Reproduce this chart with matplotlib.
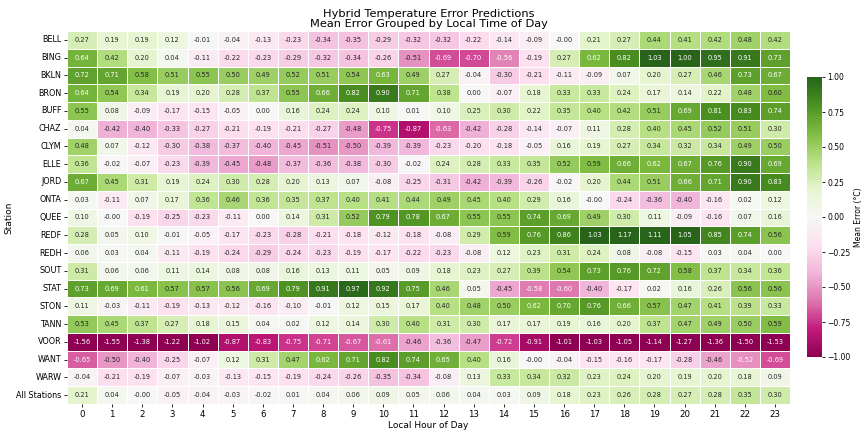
import matplotlib
matplotlib.use("Agg")
import matplotlib.pyplot as plt
import numpy as np
import seaborn as sns

stations = ["BELL", "BING", "BKLN", "BRON", "BUFF", "CHAZ", "CLYM", "ELLE", "JORD", "ONTA",
            "QUEE", "REDF", "REDH", "SOUT", "STAT", "STON", "TANN", "VOOR", "WANT", "WARW",
            "All Stations"]
hours = list(range(24))
Z = -0.001  # displays as -0.00

BELL = [0.27, 0.19, 0.19, 0.12, -0.01, -0.04, -0.13, -0.23, -0.34, -0.35, -0.29, -0.32, -0.32, -0.22, -0.14, -0.09, Z, 0.21, 0.27, 0.44, 0.41, 0.42, 0.48, 0.42]
BING = [0.64, 0.42, 0.20, 0.04, -0.11, -0.22, -0.23, -0.29, -0.32, -0.34, -0.26, -0.51, -0.69, -0.70, -0.56, -0.19, 0.27, 0.62, 0.82, 1.03, 1.00, 0.95, 0.91, 0.73]
BKLN = [0.72, 0.71, 0.58, 0.51, 0.55, 0.50, 0.49, 0.52, 0.51, 0.54, 0.63, 0.49, 0.27, -0.04, -0.30, -0.21, -0.11, -0.09, 0.07, 0.20, 0.27, 0.46, 0.73, 0.67]
BRON = [0.64, 0.54, 0.34, 0.19, 0.20, 0.28, 0.37, 0.55, 0.66, 0.82, 0.90, 0.71, 0.38, 0.00, -0.07, 0.18, 0.33, 0.33, 0.24, 0.17, 0.14, 0.22, 0.48, 0.60]
BUFF = [0.55, 0.08, -0.09, -0.17, -0.15, -0.05, 0.00, 0.16, 0.24, 0.24, 0.10, 0.01, 0.10, 0.25, 0.30, 0.22, 0.35, 0.40, 0.42, 0.51, 0.69, 0.81, 0.83, 0.74]
CHAZ = [0.04, -0.42, -0.40, -0.33, -0.27, -0.21, -0.19, -0.21, -0.27, -0.48, -0.75, -0.87, -0.63, -0.42, -0.28, -0.14, -0.07, 0.11, 0.28, 0.40, 0.45, 0.52, 0.51, 0.30]
CLYM = [0.48, 0.07, -0.12, -0.30, -0.38, -0.37, -0.40, -0.45, -0.51, -0.50, -0.39, -0.39, -0.23, -0.20, -0.18, -0.05, 0.16, 0.19, 0.27, 0.34, 0.32, 0.34, 0.49, 0.50]
ELLE = [0.36, -0.02, -0.07, -0.23, -0.39, -0.45, -0.48, -0.37, -0.36, -0.38, -0.30, -0.02, 0.24, 0.28, 0.33, 0.35, 0.52, 0.59, 0.66, 0.62, 0.67, 0.76, 0.90, 0.69]
JORD = [0.67, 0.45, 0.31, 0.19, 0.24, 0.30, 0.28, 0.20, 0.13, 0.07, -0.08, -0.25, -0.31, -0.42, -0.39, -0.26, -0.02, 0.20, 0.44, 0.51, 0.66, 0.71, 0.90, 0.83]
ONTA = [0.03, -0.11, 0.07, 0.17, 0.36, 0.46, 0.36, 0.35, 0.37, 0.40, 0.41, 0.44, 0.49, 0.45, 0.40, 0.29, 0.16, Z, -0.24, -0.36, -0.40, -0.16, 0.02, 0.12]
QUEE = [0.10, Z, -0.19, -0.25, -0.23, -0.11, 0.00, 0.14, 0.31, 0.52, 0.79, 0.78, 0.67, 0.55, 0.55, 0.74, 0.69, 0.49, 0.30, 0.11, -0.09, -0.16, 0.07, 0.16]
REDF = [0.28, 0.05, 0.10, -0.01, -0.05, -0.17, -0.23, -0.28, -0.21, -0.18, -0.12, -0.18, -0.08, 0.29, 0.59, 0.76, 0.86, 1.03, 1.17, 1.11, 1.05, 0.85, 0.74, 0.56]
REDH = [0.06, 0.03, 0.04, -0.11, -0.19, -0.24, -0.29, -0.24, -0.23, -0.19, -0.17, -0.22, -0.23, -0.08, 0.12, 0.23, 0.31, 0.24, 0.08, -0.08, -0.15, 0.03, 0.04, 0.00]
SOUT = [0.31, 0.06, 0.06, 0.11, 0.14, 0.08, 0.08, 0.16, 0.13, 0.11, 0.05, 0.09, 0.18, 0.23, 0.27, 0.39, 0.54, 0.73, 0.76, 0.72, 0.58, 0.37, 0.34, 0.36]
STAT = [0.73, 0.69, 0.61, 0.57, 0.57, 0.56, 0.69, 0.79, 0.91, 0.97, 0.92, 0.75, 0.46, 0.05, -0.45, -0.58, -0.60, -0.40, -0.17, 0.02, 0.16, 0.26, 0.56, 0.56]
STON = [0.11, -0.03, -0.11, -0.19, -0.13, -0.12, -0.16, -0.10, -0.01, 0.12, 0.15, 0.17, 0.40, 0.48, 0.50, 0.62, 0.70, 0.76, 0.66, 0.57, 0.47, 0.41, 0.39, 0.33]
TANN = [0.53, 0.45, 0.37, 0.27, 0.18, 0.15, 0.04, 0.02, 0.12, 0.14, 0.30, 0.40, 0.31, 0.30, 0.17, 0.17, 0.19, 0.16, 0.20, 0.37, 0.47, 0.49, 0.50, 0.59]
VOOR = [-1.56, -1.55, -1.38, -1.22, -1.02, -0.87, -0.83, -0.75, -0.71, -0.67, -0.61, -0.46, -0.36, -0.47, -0.72, -0.91, -1.01, -1.03, -1.05, -1.14, -1.27, -1.36, -1.50, -1.53]
WANT = [-0.65, -0.50, -0.40, -0.25, -0.07, 0.12, 0.31, 0.47, 0.62, 0.71, 0.82, 0.74, 0.65, 0.40, 0.16, Z, -0.04, -0.15, -0.16, -0.17, -0.28, -0.46, -0.52, -0.69]
WARW = [-0.04, -0.21, -0.19, -0.07, -0.03, -0.13, -0.15, -0.19, -0.24, -0.26, -0.35, -0.34, -0.08, 0.13, 0.33, 0.34, 0.32, 0.23, 0.24, 0.20, 0.19, 0.20, 0.18, 0.09]
ALL = [0.21, 0.04, Z, -0.05, -0.04, -0.03, -0.02, 0.01, 0.04, 0.06, 0.09, 0.05, 0.06, 0.04, 0.03, 0.09, 0.18, 0.23, 0.26, 0.28, 0.27, 0.28, 0.35, 0.30]

data = np.array([BELL, BING, BKLN, BRON, BUFF, CHAZ, CLYM, ELLE, JORD, ONTA, QUEE, REDF,
                 REDH, SOUT, STAT, STON, TANN, VOOR, WANT, WARW, ALL])

W, H = 866, 434
fig = plt.figure(figsize=(W / 100, H / 100), dpi=100)
ax = fig.add_axes([67 / W, (H - 404) / H, 723 / W, 373 / H])
cax = fig.add_axes([807 / W, (H - 357) / H, 15 / W, 280 / H])

sns.heatmap(data, ax=ax, cbar_ax=cax, cmap="PiYG", vmin=-1, vmax=1, center=0,
            annot=True, fmt=".2f", annot_kws={"fontsize": 4.8},
            linewidths=0.5, linecolor="white",
            xticklabels=hours, yticklabels=stations,
            cbar_kws={"label": "Mean Error (°C)"})

ax.set_title("Hybrid Temperature Error Predictions\nMean Error Grouped by Local Time of Day",
             fontsize=8.2, pad=3, linespacing=1.0)
ax.set_xlabel("Local Hour of Day", fontsize=6.5, labelpad=2)
ax.set_ylabel("Station", fontsize=6.5, labelpad=2)
ax.tick_params(axis="x", labelsize=6.2, length=2.5, width=0.6, pad=1.5)
ax.tick_params(axis="y", labelsize=5.8, length=2.5, width=0.6, pad=1.5)
plt.setp(ax.get_yticklabels(), rotation=0)
plt.setp(ax.get_xticklabels(), rotation=0)

cax.tick_params(labelsize=5.5, length=2.5, width=0.6, pad=1.5)
cax.yaxis.set_major_locator(matplotlib.ticker.FixedLocator([-1, -0.75, -0.5, -0.25, 0, 0.25, 0.5, 0.75, 1]))
cax.yaxis.set_major_formatter(matplotlib.ticker.FuncFormatter(lambda v, p: f"{v:.2f}".replace("-", "\u2212")))
cax.set_ylabel("Mean Error (°C)", fontsize=5.5, labelpad=2)
for s in cax.spines.values():
    s.set_visible(False)

fig.savefig("out.png", dpi=100)
